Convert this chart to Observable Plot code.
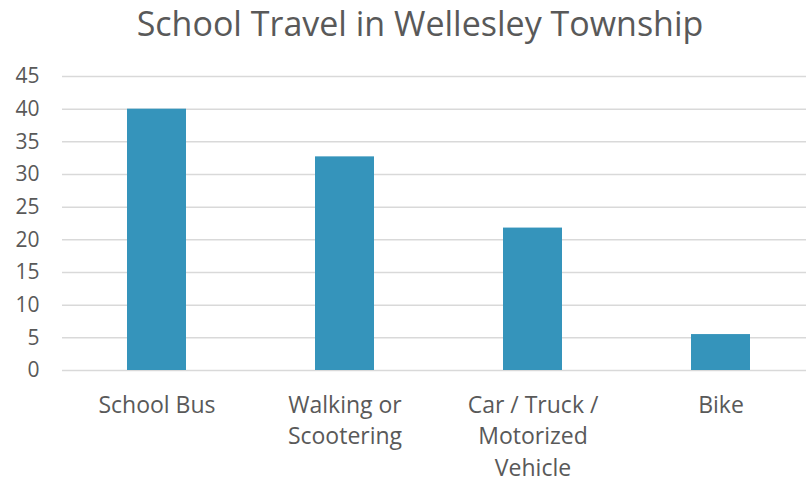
<!DOCTYPE html>
<html>
<head>
<meta charset="utf-8">
<script src="https://cdn.jsdelivr.net/npm/d3@7"></script>
<script src="https://cdn.jsdelivr.net/npm/@observablehq/plot@0.6"></script>
<style>
  html, body { margin: 0; padding: 0; background: #fff; overflow: hidden; }
  #title { height: 50px; line-height: 46px; text-align: center; font-family: "Open Sans", sans-serif; font-size: 34px; color: #595959; padding-left: 34px; white-space: nowrap; }
  #chart svg { display: block; }
</style>
</head>
<body>
<div id="title">School Travel in Wellesley Township</div>
<div id="chart"></div>
<script>
const categories = ["School Bus", "Walking or Scootering", "Car / Truck / Motorized Vehicle", "Bike"];
const values = [40, 32.7, 21.8, 5.5];
const tickLabels = ["School Bus", "Walking or\nScootering", "Car / Truck /\nMotorized\nVehicle", "Bike"];
const yTicks = [0, 5, 10, 15, 20, 25, 30, 35, 40, 45];

const data = categories.map((c, i) => ({category: c, value: values[i]}));
const labelMap = new Map(categories.map((c, i) => [c, tickLabels[i]]));

const chart = Plot.plot({
  width: 806,
  height: 432,
  marginTop: 26,
  marginBottom: 112,
  marginLeft: 62,
  marginRight: 0,
  style: {fontFamily: "Open Sans, sans-serif", color: "#595959", background: "#fff"},
  x: {domain: categories, range: [61.5, 816.3], paddingInner: 0.687, paddingOuter: 0.3435, align: 0.5},
  y: {domain: [0, 45]},
  marks: [
    Plot.ruleY(yTicks, {stroke: "#d9d9d9", strokeWidth: 1.5}),
    Plot.barY(data, {x: "category", y: "value", fill: "#3594bb"}),
    Plot.axisY({ticks: yTicks, tickSize: 0, tickPadding: 23, fontSize: 21, fill: "#595959", label: null}),
    Plot.axisX({tickSize: 0, tickPadding: 20, fontSize: 23, fill: "#595959", label: null,
      tickFormat: d => labelMap.get(d), lineHeight: 1.37, lineAnchor: "top"})
  ]
});
document.getElementById("chart").appendChild(chart);
</script>
</body>
</html>
